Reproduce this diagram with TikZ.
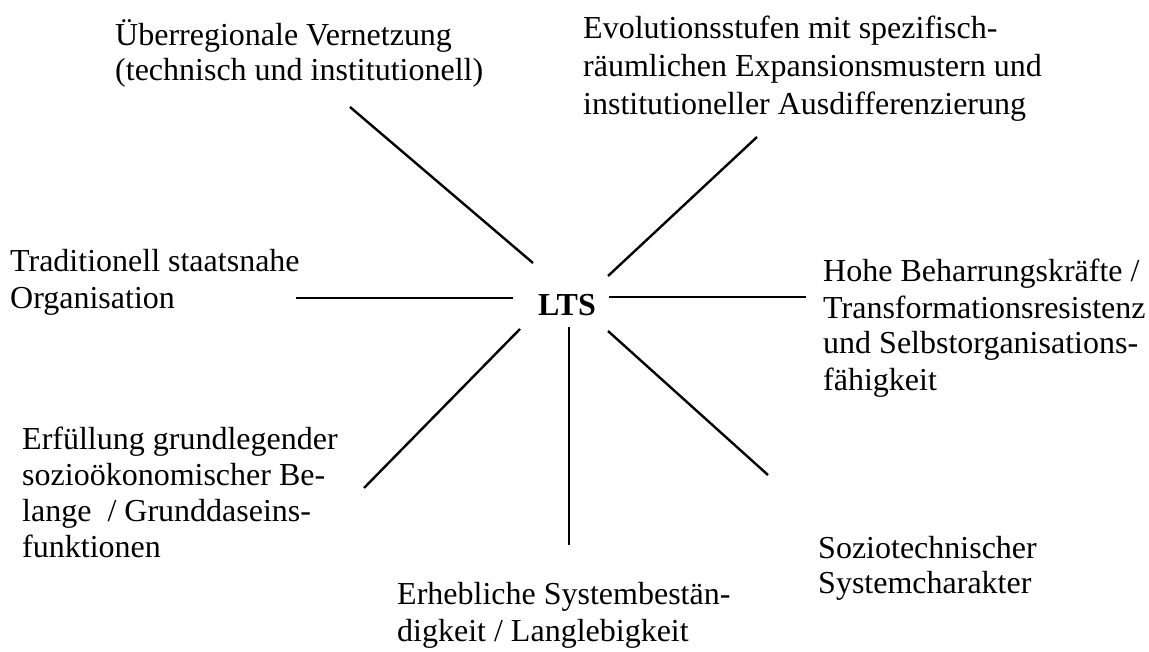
\documentclass[tikz,border=0pt]{standalone}
\usepackage{fontspec}
\setmainfont{Liberation Serif}
\begin{document}
\begin{tikzpicture}[x=1pt,y=-1pt,
  label/.style={anchor=base west,inner sep=0pt,align=left,
    font=\fontsize{32}{36}\selectfont},
  spoke/.style={line width=2.4pt,line cap=butt}]
\useasboundingbox[fill=white] (0,0) rectangle (1149,652);

% centre
\node[anchor=base,inner sep=0pt,font=\fontsize{32}{36}\selectfont\bfseries] (lts) at (567,316) {LTS};

% surrounding characteristics (placed at the baseline of their last line)
\node[label,font=\fontsize{32}{35}\selectfont] (vernetzung) at (115,81) {Überregionale Vernetzung\\(technisch und institutionell)};
\node[label,font=\fontsize{32}{38}\selectfont] (evolution) at (583,115) {Evolutionsstufen mit spezifisch-\\räumlichen Expansionsmustern und\\institutioneller Ausdifferenzierung};
\node[label,font=\fontsize{32}{37}\selectfont] (staat) at (10,309) {Traditionell staatsnahe\\Organisation};
\node[label,font=\fontsize{32}{36}\selectfont] (beharrung) at (823,390) {Hohe Beharrungskräfte /\\Transformationsresistenz\\und Selbstorganisations-\\fähigkeit};
\node[label] (erfuellung) at (22,557) {Erfüllung grundlegender\\sozioökonomischer Be-\\lange~ / Grunddaseins-\\funktionen};
\node[label,font=\fontsize{32}{35}\selectfont] (sozio) at (818,593) {Soziotechnischer\\Systemcharakter};
\node[label,font=\fontsize{32}{37}\selectfont] (bestand) at (397,641) {Erhebliche Systembestän-\\digkeit / Langlebigkeit};

% spoke end points
\coordinate (ul-in) at (533,263);  \coordinate (ul-out) at (350,107);
\coordinate (ur-in) at (608,276);  \coordinate (ur-out) at (757,137);
\coordinate (l-in)  at (513,298);  \coordinate (l-out)  at (296,298);
\coordinate (r-in)  at (609,297);  \coordinate (r-out)  at (806,297);
\coordinate (ll-in) at (520,329);  \coordinate (ll-out) at (364,488);
\coordinate (d-in)  at (569,327);  \coordinate (d-out)  at (569,545);
\coordinate (lr-in) at (608,331);  \coordinate (lr-out) at (768,475);

\draw[spoke] (ul-in) -- (ul-out);
\draw[spoke] (ur-in) -- (ur-out);
\draw[spoke] (l-in) -- (l-out);
\draw[spoke] (r-in) -- (r-out);
\draw[spoke] (ll-in) -- (ll-out);
\draw[spoke] (d-in) -- (d-out);
\draw[spoke] (lr-in) -- (lr-out);
\end{tikzpicture}
\end{document}
